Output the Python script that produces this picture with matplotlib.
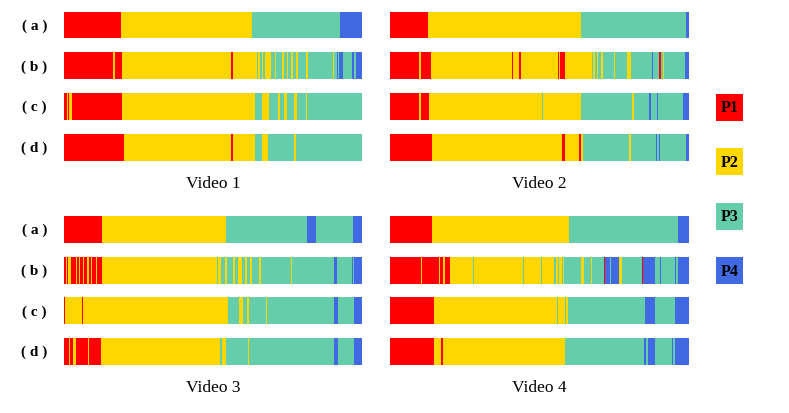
import matplotlib
matplotlib.use("Agg")
import matplotlib.pyplot as plt

# state colours: P1..P4
phase_names = ["P1", "P2", "P3", "P4"]
phase_colors = ["#FF0000", "#FFD700", "#66CDAA", "#4169E1"]
row_labels = ["( a )", "( b )", "( c )", "( d )"]
video_titles = ["Video 1", "Video 2", "Video 3", "Video 4"]

# each row: (phase, start in % of the video)
v1_a = [(1, 0), (2, 19.0), (3, 63.2), (4, 92.5)]
v1_b = [(1, 0), (2, 16.5), (1, 17.1), (2, 19.5), (1, 56.2), (2, 56.6), (3, 64.6), (2, 65.1),
        (3, 65.7), (2, 66.3), (3, 66.8), (2, 67.4), (3, 69.6), (2, 70.7), (3, 71.3), (2, 73.3),
        (3, 73.7), (2, 74.9), (3, 75.3), (2, 76.3), (3, 76.9), (2, 78.0), (3, 78.5), (2, 81.3),
        (3, 81.9), (2, 85.8), (3, 86.0), (2, 90.3), (3, 90.5), (4, 91.6), (3, 92.0), (4, 92.3),
        (3, 93.6), (4, 96.8), (3, 97.2), (4, 97.9)]
v1_c = [(1, 0), (2, 0.9), (1, 1.3), (2, 1.8), (1, 2.8), (2, 19.5), (3, 64.1), (2, 66.3),
        (3, 68.9), (2, 71.9), (3, 72.5), (2, 73.8), (3, 74.7), (2, 77.2), (3, 78.1), (2, 81.2),
        (3, 81.7)]
v1_d = [(1, 0), (2, 20.1), (1, 56.2), (2, 56.8), (3, 64.2), (2, 66.6), (3, 68.4), (2, 77.2),
        (3, 77.7)]

v2_a = [(1, 0), (2, 12.6), (3, 64.0), (4, 98.9)]
v2_b = [(1, 0), (2, 9.8), (1, 10.4), (2, 13.7), (1, 40.7), (2, 41.1), (1, 43.3), (2, 43.7),
        (1, 56.1), (2, 56.4), (1, 56.7), (2, 58.6), (3, 67.6), (2, 68.0), (3, 68.7), (2, 69.2),
        (3, 69.7), (2, 70.6), (3, 71.3), (2, 75.0), (3, 75.4), (2, 79.2), (3, 80.5), (4, 87.6),
        (3, 88.0), (1, 90.1), (3, 90.5), (2, 91.2), (3, 91.8), (4, 98.8)]
v2_c = [(1, 0), (2, 9.8), (1, 10.4), (2, 13.2), (3, 50.7), (2, 51.1), (3, 63.9), (2, 80.9),
        (3, 81.7), (4, 86.7), (3, 87.2), (4, 89.3), (3, 89.6), (4, 97.9)]
v2_d = [(1, 0), (2, 13.9), (1, 57.4), (2, 58.6), (1, 63.3), (2, 63.8), (3, 64.7), (2, 80.0),
        (3, 80.6), (4, 89.0), (3, 89.3), (4, 89.9), (3, 90.3), (4, 99.1)]

v3_a = [(1, 0), (2, 12.6), (3, 54.3), (4, 81.7), (3, 84.7), (4, 97.0)]
v3_b = [(1, 0), (2, 0.6), (1, 0.9), (2, 1.5), (1, 2.3), (2, 3.9), (1, 4.3), (2, 5.0), (1, 5.4),
        (2, 6.3), (1, 6.7), (2, 7.6), (1, 8.3), (2, 9.1), (1, 9.5), (2, 10.7), (1, 11.2),
        (2, 12.6), (3, 51.2), (2, 51.8), (3, 52.7), (2, 54.0), (3, 54.6), (2, 56.8), (3, 57.4),
        (2, 58.5), (3, 59.6), (2, 60.7), (3, 61.3), (2, 62.4), (3, 63.0), (2, 65.5), (3, 66.0),
        (2, 76.2), (3, 76.6), (4, 90.6), (3, 91.7), (4, 96.5), (3, 97.1), (4, 97.3)]
v3_c = [(1, 0), (2, 0.4), (1, 6.2), (2, 6.5), (3, 54.9), (2, 58.7), (3, 60.1), (2, 61.3),
        (3, 62.0), (2, 67.8), (3, 68.1), (4, 90.6), (3, 91.9), (4, 97.3)]
v3_d = [(1, 0), (2, 1.7), (1, 2.0), (2, 2.9), (1, 4.0), (2, 7.9), (1, 8.5), (2, 12.5),
        (3, 52.3), (2, 53.1), (3, 54.4), (2, 61.6), (3, 62.0), (4, 90.6), (3, 91.9), (4, 97.3)]

v4_a = [(1, 0), (2, 14.0), (3, 59.9), (4, 96.3)]
v4_b = [(1, 0), (2, 10.4), (1, 10.7), (2, 16.3), (1, 16.6), (2, 17.6), (1, 18.3), (2, 20.1),
        (3, 27.9), (2, 28.2), (3, 44.4), (2, 44.7), (3, 50.6), (2, 50.9), (3, 55.0), (2, 55.4),
        (3, 56.1), (2, 56.5), (3, 57.4), (2, 57.9), (3, 58.3), (2, 63.9), (3, 64.8), (2, 67.3),
        (3, 67.7), (1, 71.5), (4, 71.9), (3, 73.6), (4, 74.0), (2, 76.7), (3, 77.5), (1, 84.3),
        (4, 84.7), (3, 88.7), (4, 90.3), (3, 90.7), (4, 95.4), (3, 95.8), (4, 96.4)]
v4_c = [(1, 0), (2, 14.8), (3, 55.7), (2, 56.1), (3, 58.6), (2, 58.9), (3, 59.4), (4, 85.2),
        (3, 88.5), (4, 95.2)]
v4_d = [(1, 0), (2, 14.8), (1, 17.1), (2, 17.6), (3, 58.5), (4, 85.1), (3, 85.5), (4, 86.2),
        (3, 88.7), (4, 94.2), (3, 94.5), (4, 95.2)]

videos = [[v1_a, v1_b, v1_c, v1_d], [v2_a, v2_b, v2_c, v2_d],
          [v3_a, v3_b, v3_c, v3_d], [v4_a, v4_b, v4_c, v4_d]]

W, H = 789, 414
fig = plt.figure(figsize=(W / 100, H / 100), dpi=100)

# panel boxes in pixels: left, right, centre of row (a), row spacing
panels = [(64, 362, 26, 40.8), (390, 689, 26, 40.8),
          (64, 362, 230.5, 40.7), (390, 689, 230.5, 40.7)]
bar_h = 0.66

for k, rows in enumerate(videos):
    x0, x1, yc, dy = panels[k]
    top = yc - dy / 2
    bot = yc + 3 * dy + dy / 2
    ax = fig.add_axes([x0 / W, 1 - bot / H, (x1 - x0) / W, (bot - top) / H])
    for r, segs in enumerate(rows):
        starts = [s[1] for s in segs]
        ends = starts[1:] + [100]
        widths = [e - s for s, e in zip(starts, ends)]
        cols = [phase_colors[s[0] - 1] for s in segs]
        ax.barh(r, widths, left=starts, height=bar_h, color=cols, linewidth=0)
    ax.set_xlim(0, 100)
    ax.set_ylim(3.5, -0.5)
    ax.axis("off")
    if k % 2 == 0:
        for r, lab in enumerate(row_labels):
            ax.text(-9.9, r, lab, ha="center", va="center", fontsize=11, fontweight="bold",
                    family="Liberation Serif", clip_on=False)
    ty = 184 if k < 2 else 388
    fig.text((x0 + x1) / 2 / W, 1 - ty / H, video_titles[k], ha="center", va="center",
             fontsize=12.5, family="Liberation Serif")

# legend
lax = fig.add_axes([716 / W, 1 - 299 / H, 27 / W, (299 - 81) / H])
lax.barh(range(4), 1, height=27 / 54.7, color=phase_colors, linewidth=0)
for i, name in enumerate(phase_names):
    lax.text(0.5, i, name, ha="center", va="center", fontsize=11.5, fontweight="bold",
             family="Liberation Serif", color="black")
lax.set_xlim(0, 1)
lax.set_ylim(3.5, -0.5)
lax.axis("off")

fig.savefig("out.png", dpi=100)
